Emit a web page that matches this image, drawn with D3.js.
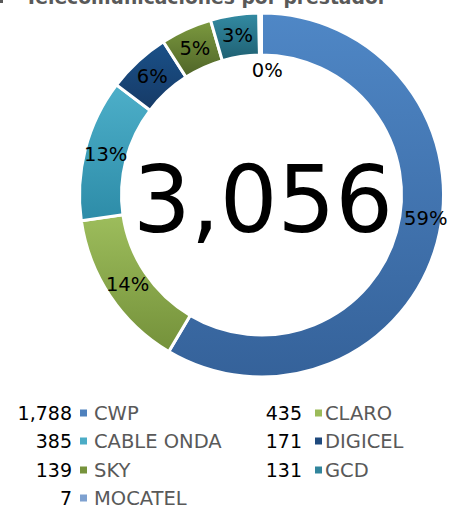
<!DOCTYPE html>
<html><head><meta charset="utf-8">
<script src="https://cdn.jsdelivr.net/npm/d3@7"></script>
<style>
html,body{margin:0;padding:0;background:#fff;overflow:hidden}
svg{display:block}
text{font-family:"DejaVu Sans",sans-serif}
</style></head>
<body>
<script>
const names = ["CWP","CLARO","CABLE ONDA","DIGICEL","SKY","GCD","MOCATEL"];
const values = [1788,435,385,171,139,131,7];
const pctLabels = ["59%","14%","13%","6%","5%","3%","0%"];
const totalLabel = "3,056";
const titleText = "Telecomunicaciones por prestador";

const topColors = ["#4F87C6","#9DBD5C","#4DAFC9","#1A5189","#7C9A3F","#338BA3","#7EA3D3"];
const botColors = ["#35629A","#74913A","#2D8CA8","#163A66","#4F6428","#1F6072","#6A92C6"];
const legendColors = ["#4F81BD","#9BBB59","#4BACC6","#1F497D","#77933C","#31859C","#7EA1D0"];

const W = 451, H = 510;
const cx = 261.5, cy = 195, rOut = 182, rIn = 140;

const svg = d3.select("body").append("svg").attr("width", W).attr("height", H);
const defs = svg.append("defs");
names.forEach((n,i)=>{
  const g = defs.append("linearGradient").attr("id","g"+i)
    .attr("x1",0).attr("y1",0).attr("x2",0).attr("y2",1);
  g.append("stop").attr("offset","0%").attr("stop-color",topColors[i]);
  g.append("stop").attr("offset","100%").attr("stop-color",botColors[i]);
});

// title sliver (cut off at top, as in the original)
svg.append("rect").attr("x",0).attr("y",0).attr("width",3).attr("height",3).attr("fill","#595959");
svg.append("text").attr("x",25).attr("y",4).attr("textLength",362).attr("lengthAdjust","spacingAndGlyphs")
  .attr("font-size",20).attr("font-weight","bold").attr("fill","#595959").text(titleText);

const data = names.map((n,i)=>({name:n, value:values[i], pct:pctLabels[i], i}));
const pie = d3.pie().value(d=>d.value).sort(null);
const arcs = pie(data);
const arc = d3.arc().innerRadius(rIn).outerRadius(rOut);
const labelArc = d3.arc().innerRadius((rIn+rOut)/2).outerRadius((rIn+rOut)/2);

const g = svg.append("g").attr("transform",`translate(${cx},${cy})`);
g.selectAll("path.slice").data(arcs).enter().append("path")
  .attr("class","slice")
  .attr("d",arc)
  .attr("fill",d=>`url(#g${d.data.i})`)
  .attr("stroke","#fff").attr("stroke-width",3).attr("stroke-linejoin","miter");

// label nudges (manual label placement in original)
const nudge = {"CWP":[9,-19],"MOCATEL":[7,36]};
g.selectAll("text.pct").data(arcs).enter().append("text")
  .attr("class","pct")
  .attr("transform",d=>{
    const c = labelArc.centroid(d);
    const nd = nudge[d.data.name]||[0,0];
    return `translate(${c[0]+nd[0]},${c[1]+nd[1]})`;
  })
  .attr("text-anchor","middle").attr("dominant-baseline","central")
  .attr("font-size",19.5).attr("fill","#000")
  .text(d=>d.data.pct);

// center total
svg.append("text").attr("x",263).attr("y",232)
  .attr("text-anchor","middle").attr("font-size",92).attr("fill","#000")
  .attr("textLength",260).attr("lengthAdjust","spacingAndGlyphs")
  .text(totalLabel);

// legend
const colNumX = [72,302], colSqX = [80,315], colLabX = [94,325];
const rowY = [413,441,470,498];
const fmt = d3.format(",");
const lg = svg.append("g");
data.forEach((d,i)=>{
  const c = i%2, r = Math.floor(i/2);
  const y = rowY[r];
  lg.append("text").attr("x",colNumX[c]).attr("y",y+7).attr("text-anchor","end")
    .attr("font-size",19).attr("fill","#000").text(fmt(d.value));
  lg.append("rect").attr("x",colSqX[c]).attr("y",y-3.5).attr("width",7).attr("height",7)
    .attr("fill",legendColors[i]);
  lg.append("text").attr("x",colLabX[c]).attr("y",y+7)
    .attr("font-size",19.5).attr("fill","#595959").text(d.name);
});
</script>
</body></html>
